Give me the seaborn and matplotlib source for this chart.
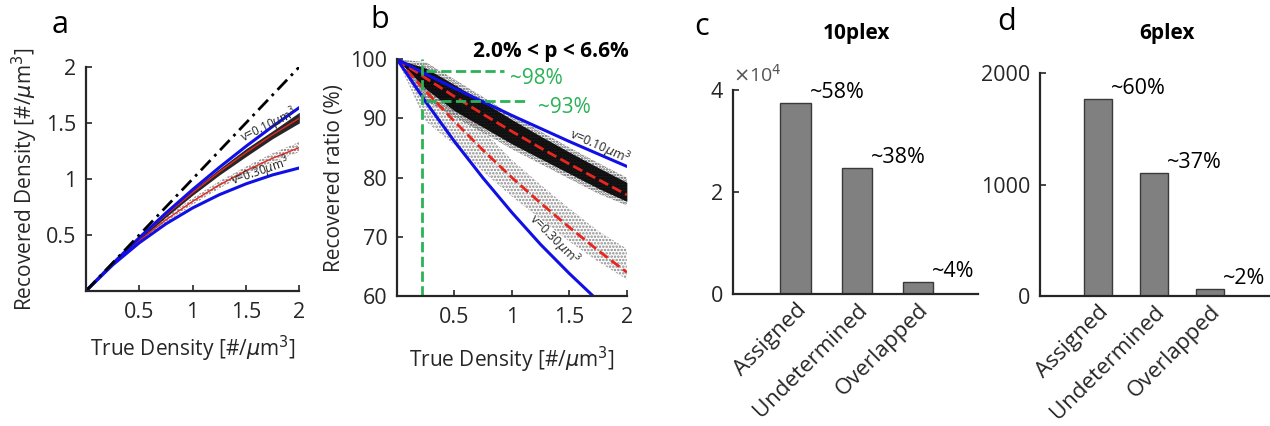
import matplotlib
matplotlib.use('Agg')
import matplotlib.pyplot as plt
import seaborn as sns

# ---- data ----
density = [0, 0.25, 0.5, 0.75, 1.0, 1.25, 1.5, 1.75, 2.0]

# panel a: recovered density [#/um^3]
a_diag_x = [0, 2]
a_diag_y = [0, 2]
a_blue_v010 = [0, 0.244, 0.476, 0.696, 0.905, 1.103, 1.291, 1.469, 1.637]
a_blue_v030 = [0, 0.232, 0.430, 0.599, 0.741, 0.859, 0.956, 1.036, 1.098]
a_red_v010 = [0, 0.242, 0.469, 0.680, 0.878, 1.063, 1.235, 1.395, 1.542]
a_red_v030 = [0, 0.237, 0.448, 0.635, 0.800, 0.946, 1.074, 1.185, 1.280]
a_dense_lo = [0, 0.235, 0.455, 0.660, 0.855, 1.035, 1.200, 1.360, 1.500]
a_dense_hi = [0, 0.250, 0.480, 0.700, 0.900, 1.090, 1.270, 1.430, 1.595]
a_sparse_lo = [0, 0.225, 0.430, 0.610, 0.770, 0.915, 1.040, 1.150, 1.240]
a_sparse_hi = [0, 0.245, 0.465, 0.660, 0.830, 0.980, 1.110, 1.230, 1.330]

# panel b: recovered ratio (%)
b_blue_v010 = [100, 97.5, 95.1, 92.8, 90.5, 88.3, 86.1, 84.0, 81.9]
b_blue_v030 = [100, 92.8, 86.1, 79.9, 74.1, 68.7, 63.8, 59.2, 54.9]
b_red_v010 = [100, 96.8, 93.7, 90.7, 87.8, 85.0, 82.3, 79.7, 77.1]
b_red_v030 = [100, 94.6, 89.5, 84.6, 80.0, 75.7, 71.6, 67.7, 64.0]
b_dense_lo = [100, 95.0, 91.3, 88.5, 85.7, 83.2, 80.7, 78.2, 76.0]
b_dense_hi = [100, 98.5, 95.7, 92.8, 89.8, 87.0, 84.3, 81.7, 79.2]
b_fringe_lo = [100, 93.0, 90.2, 87.6, 84.8, 82.3, 79.8, 77.3, 75.3]
b_fringe_hi = [100, 99.5, 96.6, 93.6, 90.6, 87.8, 85.1, 82.5, 80.0]
b_sparse_lo = [100, 89.5, 85.5, 81.0, 76.8, 73.0, 69.2, 65.8, 62.8]
b_sparse_hi = [100, 98.5, 93.0, 88.0, 83.0, 78.8, 74.8, 71.0, 68.0]
green_x = 0.22
green_levels = [98, 93]
green_ends = [0.93, 1.14]
green_texts = ['~98%', '~93%']
green_text_x = [0.98, 1.23]

# panels c, d
categories = ['Assigned', 'Undetermined', 'Overlapped']
plex10_counts = [37500, 24700, 2400]
plex10_pct = ['~58%', '~38%', '~4%']
plex6_counts = [1765, 1103, 63]
plex6_pct = ['~60%', '~37%', '~2%']

sns.set_theme(style='white')
plt.rcParams['font.family'] = ['Open Sans', 'DejaVu Sans']
plt.rcParams['hatch.linewidth'] = 1.2

ink = '#262626'
blue = '#1010e6'
red = '#e8261f'
green = '#2bb256'
unit = r'[#/$\mu$m$^3$]'

fig = plt.figure(figsize=(12.7, 4.26), dpi=100)
ax_a = fig.add_axes([0.0677, 0.317, 0.168, 0.526])
ax_b = fig.add_axes([0.3126, 0.305, 0.181, 0.556])
ax_c = fig.add_axes([0.577, 0.310, 0.193, 0.479])
ax_d = fig.add_axes([0.819, 0.305, 0.180, 0.523])


def style(ax):
    sns.despine(ax=ax)
    for s in ['left', 'bottom']:
        ax.spines[s].set_color(ink)
        ax.spines[s].set_linewidth(1.6)
    ax.tick_params(direction='in', length=4, width=1.2, colors=ink,
                   labelsize=15.5, left=True, bottom=True)
    ax.tick_params(axis='x', pad=8)
    ax.tick_params(axis='y', pad=7)


# ---- a ----
ax = ax_a
ax.fill_between(density, a_sparse_lo, a_sparse_hi, facecolor='none',
                edgecolor='#777777', hatch='.....', lw=0)
ax.fill_between(density, a_dense_lo, a_dense_hi, color='black', alpha=0.85, lw=0)
sns.lineplot(x=density, y=a_red_v010, ax=ax, color=red, lw=1)
sns.lineplot(x=density, y=a_red_v030, ax=ax, color=red, lw=1)
sns.lineplot(x=density, y=a_blue_v010, ax=ax, color=blue, lw=2.2)
sns.lineplot(x=density, y=a_blue_v030, ax=ax, color=blue, lw=2.2)
sns.lineplot(x=a_diag_x, y=a_diag_y, ax=ax, color='black', lw=2,
             dashes=(5, 2, 1, 2))
ax.text(1.72, 1.47, r'v=0.10$\mu$m$^3$', fontsize=8.5, rotation=26,
        ha='center', va='center', color=ink)
ax.text(1.64, 1.06, r'v=0.30$\mu$m$^3$', fontsize=8.5, rotation=19,
        ha='center', va='center', color=ink)
ax.set_xlim(0, 2)
ax.set_ylim(0, 2)
ax.set_xticks([0.5, 1, 1.5, 2], ['0.5', '1', '1.5', '2'])
ax.set_yticks([0.5, 1, 1.5, 2], ['0.5', '1', '1.5', '2'])
style(ax)
ax.set_xlabel('True Density ' + unit, fontsize=15, color=ink)
ax.set_ylabel('Recovered Density ' + unit, fontsize=15, color=ink)
ax.xaxis.set_label_coords(0.5, -0.19)
ax.yaxis.set_label_coords(-0.215, 0.5)

# ---- b ----
ax = ax_b
ax.fill_between(density, b_sparse_lo, b_sparse_hi, facecolor='none',
                edgecolor='#888888', hatch='.....', lw=0)
ax.fill_between(density, b_fringe_lo, b_fringe_hi, facecolor='none',
                edgecolor='#555555', hatch='......', lw=0)
ax.fill_between(density, b_dense_lo, b_dense_hi, color='black', alpha=0.9, lw=0)
sns.lineplot(x=density, y=b_red_v010, ax=ax, color=red, lw=2, linestyle='--')
sns.lineplot(x=density, y=b_red_v030, ax=ax, color=red, lw=2, linestyle='--')
sns.lineplot(x=density, y=b_blue_v010, ax=ax, color=blue, lw=2.2)
sns.lineplot(x=density, y=b_blue_v030, ax=ax, color=blue, lw=2.2)
ax.axvline(green_x, color=green, lw=2, linestyle='--')
for lvl, xe, t, tx in zip(green_levels, green_ends, green_texts, green_text_x):
    ax.hlines(lvl, green_x + 0.03, xe, color=green, lw=2, linestyles='--')
    ax.text(tx, lvl - 1.2, t, color=green, fontsize=15, ha='left', va='center')
ax.text(1.76, 85.2, r'v=0.10$\mu$m$^3$', fontsize=9, rotation=-24,
        ha='center', va='center', color=ink)
ax.text(1.36, 69.5, r'v=0.30$\mu$m$^3$', fontsize=9, rotation=-45,
        ha='center', va='center', color=ink)
ax.text(2.02, 101.3, '2.0% < p < 6.6%', fontsize=15, fontweight='bold',
        ha='right', va='center', color='black', clip_on=False)
ax.set_xlim(0, 2)
ax.set_ylim(60, 100)
ax.set_xticks([0.5, 1, 1.5, 2], ['0.5', '1', '1.5', '2'])
ax.set_yticks([60, 70, 80, 90, 100])
style(ax)
ax.set_xlabel('True Density ' + unit, fontsize=15, color=ink)
ax.set_ylabel('Recovered ratio (%)', fontsize=15, color=ink)
ax.xaxis.set_label_coords(0.5, -0.205)
ax.yaxis.set_label_coords(-0.226, 0.5)


# ---- c, d ----
def bars(ax, counts, pcts, ymax, yticks, yticklabels, xlim):
    sns.barplot(x=categories, y=counts, ax=ax, color='#808080', saturation=1,
                width=0.5, edgecolor='#3a3a3a', linewidth=1)
    for i, (c, p) in enumerate(zip(counts, pcts)):
        ax.annotate(p, (i + 0.25, c), xytext=(-1, 0), textcoords='offset points',
                    fontsize=15.5, color='black', ha='left', va='bottom')
    ax.set_xlim(*xlim)
    ax.set_ylim(0, ymax)
    ax.set_yticks(yticks, yticklabels)
    style(ax)
    ax.tick_params(axis='x', length=3, pad=4)
    plt.setp(ax.get_xticklabels(), rotation=45, ha='right', rotation_mode='anchor',
             fontsize=16)
    ax.set_xlabel('')
    ax.set_ylabel('')


bars(ax_c, plex10_counts, plex10_pct, 40000, [0, 20000, 40000], ['0', '2', '4'],
     (-1.03, 2.98))
ax_c.text(0.0, 1.02, r'$\times$10$^4$', transform=ax_c.transAxes, fontsize=14,
          color='#555555', ha='left', va='bottom')
bars(ax_d, plex6_counts, plex6_pct, 2000, [0, 1000, 2000], ['0', '1000', '2000'],
     (-1.04, 3.05))

# titles and panel letters
fig.text(857 / 1270, 1 - 33 / 426, '10plex', fontsize=15, fontweight='bold',
         ha='center', va='center', color='black')
fig.text(1167 / 1270, 1 - 33 / 426, '6plex', fontsize=15, fontweight='bold',
         ha='center', va='center', color='black')
for lab, px, py in [('a', 60, 25), ('b', 380, 20), ('c', 702, 27), ('d', 1007, 22)]:
    fig.text(px / 1270, 1 - py / 426, lab, fontsize=22, ha='center', va='center',
             color='black')

fig.savefig('out.png', dpi=100)
